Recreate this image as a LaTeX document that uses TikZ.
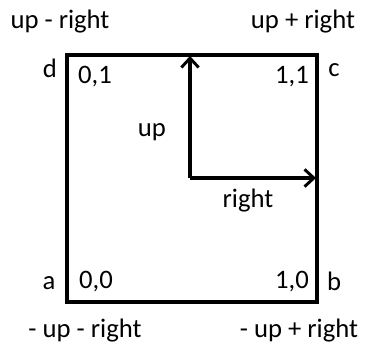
\documentclass[tikz,border=0pt]{standalone}
\usepackage{fontspec}
\setmainfont{Carlito}
\usetikzlibrary{arrows.meta}
\begin{document}
\begin{tikzpicture}[x=0.75pt,y=-0.75pt,
  lbl/.style={inner sep=0pt,font=\fontsize{20}{24}\selectfont},
  edge/.style={line width=2.4pt},
  vec/.style={line width=2.4pt,-{Straight Barb[length=7pt,width=13pt,line width=2.2pt]}}]
\useasboundingbox (0,0) rectangle (367,347);
\coordinate (A) at (67,302);
\coordinate (B) at (317,302);
\coordinate (C) at (317,55);
\coordinate (D) at (67,55);
\draw[edge, line join=miter] (A) -- (B) -- (C) -- (D) -- cycle;
\coordinate (O) at (190,178);
\coordinate (Up) at (190,56);
\coordinate (Rt) at (316,178);
\draw[vec] (O) -- (Up);
\draw[vec] (O) -- (Rt);
\node[lbl] (tl) at (60,22) {up - right};
\node[lbl] (tr) at (303,22) {up + right};
\node[lbl] (nd) at (50,68) {d};
\node[lbl] (n01) at (95,77) {0,1};
\node[lbl] (n11) at (292,77) {1,1};
\node[lbl] (nc) at (334,70) {c};
\node[lbl] (up) at (152,132) {up};
\node[lbl] (right) at (248,201) {right};
\node[lbl] (na) at (49,283) {a};
\node[lbl] (n00) at (96,282) {0,0};
\node[lbl] (n10) at (292,282) {1,0};
\node[lbl] (nb) at (334,281) {b};
\node[lbl] (bl) at (85,331) {- up - right};
\node[lbl] (br) at (299,331) {- up + right};
\end{tikzpicture}
\end{document}
